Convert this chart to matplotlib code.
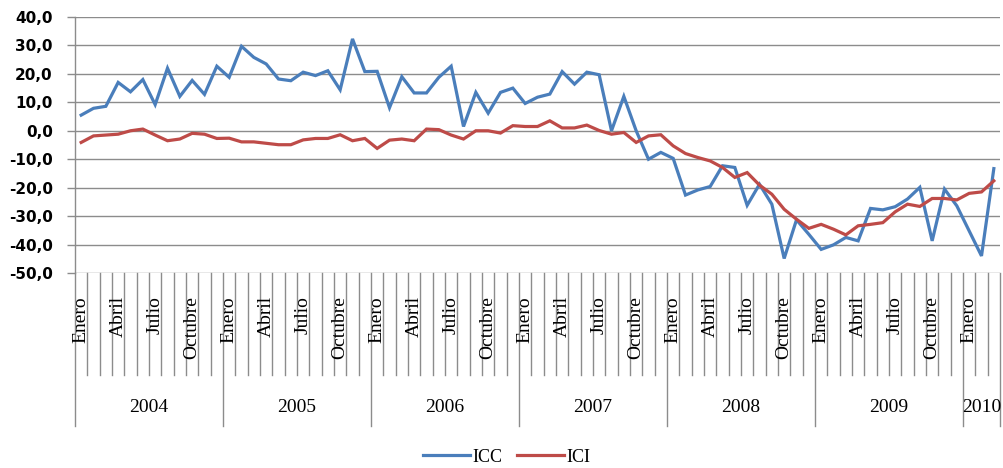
import matplotlib
matplotlib.use("Agg")
import matplotlib.pyplot as plt
import matplotlib.transforms as mtransforms
from matplotlib.lines import Line2D

years = ["2004", "2005", "2006", "2007", "2008", "2009", "2010"]
months_per_year = [12, 12, 12, 12, 12, 12, 3]
month_names = ["Enero", "Febrero", "Marzo", "Abril", "Mayo", "Junio", "Julio",
               "Agosto", "Septiembre", "Octubre", "Noviembre", "Diciembre"]
shown_months = ["Enero", "Abril", "Julio", "Octubre"]

icc = [5.5, 7.9, 8.6, 17.0, 13.7, 18.0, 9.2, 22.0, 12.1, 17.7, 12.8, 22.7,
       18.8, 29.7, 25.8, 23.5, 18.2, 17.6, 20.6, 19.4, 21.1, 14.4, 32.3, 20.8,
       20.9, 8.1, 19.0, 13.3, 13.3, 18.8, 22.7, 1.5, 13.5, 6.2, 13.5, 15.0,
       9.6, 11.8, 12.9, 20.8, 16.4, 20.6, 19.7, 0.0, 12.1, 0.0, -10.0, -7.6,
       -9.7, -22.6, -20.8, -19.6, -12.3, -12.9, -26.2, -18.8, -25.8, -44.9, -31.3, -36.4,
       -41.7, -40.1, -37.5, -38.7, -27.3, -27.8, -26.7, -24.0, -19.9, -38.7, -20.5, -26.4,
       -35.2, -44.0, -13.3]
ici = [-4.1, -1.8, -1.5, -1.2, 0.0, 0.6, -1.5, -3.5, -2.9, -0.9, -1.2, -2.7,
       -2.6, -3.9, -3.9, -4.4, -4.9, -4.9, -3.2, -2.7, -2.7, -1.4, -3.5, -2.7,
       -6.2, -3.3, -2.9, -3.5, 0.6, 0.4, -1.5, -2.9, 0.0, 0.0, -0.8, 1.8,
       1.5, 1.5, 3.5, 1.0, 1.0, 2.0, 0.1, -1.2, -0.6, -4.1, -1.8, -1.4,
       -5.3, -8.0, -9.4, -10.6, -12.9, -16.4, -14.7, -19.1, -22.3, -27.6, -31.1, -34.3,
       -32.9, -34.6, -36.6, -33.4, -32.9, -32.3, -28.5, -25.8, -26.6, -23.8, -23.8, -24.3,
       -22.0, -21.5, -17.6]

BLUE = "#4A7EBB"
RED = "#BE4B48"
GRID = "#8C8C8C"

n = len(icc)
xs = [i + 0.5 for i in range(n)]

fig = plt.figure(figsize=(10.04, 4.68), dpi=100)
W, H = 1004, 468
left, right, top, bottom = 75, 1000, 17, 273
ax = fig.add_axes([left / W, 1 - bottom / H, (right - left) / W, (bottom - top) / H])

ax.plot(xs, icc, color=BLUE, lw=2.3, solid_joinstyle="miter", zorder=3)
ax.plot(xs, ici, color=RED, lw=2.3, solid_joinstyle="miter", zorder=3)

ax.set_xlim(0, n)
ax.set_ylim(-50, 40)
ax.set_yticks(range(-50, 41, 10))
ax.set_yticklabels([f"{v:.1f}".replace(".", ",") for v in range(-50, 41, 10)],
                   fontsize=11, fontweight="bold", family="DejaVu Sans")
ax.tick_params(axis="y", length=6, width=1, color=GRID, pad=10)
ax.set_xticks([])
ax.grid(axis="y", color=GRID, lw=1)
ax.set_axisbelow(True)
for s in ["top", "right", "bottom"]:
    ax.spines[s].set_visible(False)
ax.spines["left"].set_color(GRID)
ax.spines["left"].set_linewidth(1)

trans = mtransforms.blended_transform_factory(ax.transData, ax.transAxes)
ph = bottom - top
month_tick_end = -(375 - bottom) / ph
year_tick_end = -(426 - bottom) / ph
label_top = -(296 - bottom) / ph
year_label_y = -(407 - bottom) / ph

idx = 0
boundaries = [0]
for y, cnt in zip(years, months_per_year):
    for m in range(cnt):
        name = month_names[m]
        if name in shown_months:
            ax.text(idx + m + 0.5, label_top, name, transform=trans, rotation=90,
                    ha="center", va="top", fontsize=14, family="Liberation Serif")
    ax.text(idx + cnt / 2, year_label_y, y, transform=trans, ha="center", va="center",
            fontsize=14, family="Liberation Serif")
    idx += cnt
    boundaries.append(idx)

for i in range(n + 1):
    if i in boundaries:
        ax.plot([i, i], [0, year_tick_end], transform=trans, color=GRID, lw=1, clip_on=False)
    else:
        ax.plot([i, i], [0, month_tick_end], transform=trans, color=GRID, lw=1, clip_on=False)

handles = [Line2D([], [], color=BLUE, lw=2.3), Line2D([], [], color=RED, lw=2.3)]
fig.legend(handles, ["ICC", "ICI"], loc="center", bbox_to_anchor=(507 / W, 1 - 457 / H),
           ncol=2, frameon=False, prop={"family": "Liberation Serif", "size": 13},
           handlelength=2.6, handletextpad=0.15, columnspacing=0.8)

fig.savefig("out.png", dpi=100)
